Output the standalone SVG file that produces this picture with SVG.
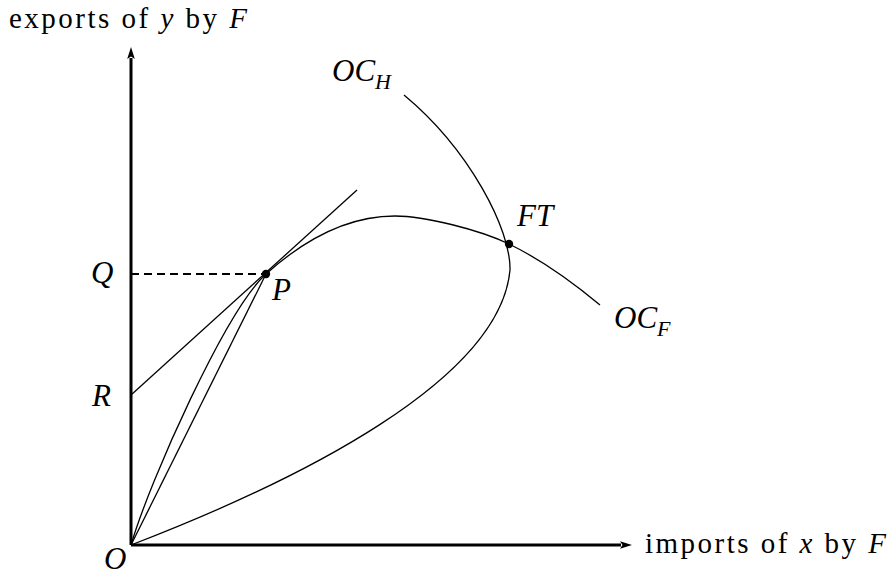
<svg xmlns="http://www.w3.org/2000/svg" width="896" height="577" viewBox="0 0 896 577">
<style>
  text { font-family: "Liberation Serif", "Times New Roman", serif; font-size: 31px; fill: #000; }
  .it { font-style: italic; }
  .sub { font-size: 22px; font-style: italic; }
  .lab { font-size: 29px; }
  .axis { stroke: #000; stroke-width: 3; fill: none; }
  .curve { stroke: #000; stroke-width: 1.3; fill: none; }
  .dash { stroke: #000; stroke-width: 1.8; stroke-dasharray: 8 5; fill: none; }
</style>
<defs>
  <marker id="arr" markerUnits="userSpaceOnUse" viewBox="-2 -5 14 10" refX="0" refY="0" markerWidth="14" markerHeight="10" orient="auto" overflow="visible">
    <path d="M-1,-3.8 L11,0 L-1,3.8 L1.5,0 z" fill="#000"/>
  </marker>
</defs>
<rect width="896" height="577" fill="#fff"/>
<g id="connectors">
  <line class="axis" x1="131" y1="545" x2="131" y2="58" marker-end="url(#arr)"/>
  <line class="axis" x1="131" y1="545" x2="621" y2="545" marker-end="url(#arr)"/>
  <line class="dash" x1="131" y1="274" x2="266" y2="274"/>
  <line class="curve" x1="131" y1="395" x2="357" y2="190"/>
  <line class="curve" x1="131" y1="545" x2="266" y2="274"/>
  <path id="OCF" class="curve" d="M131,545 C150,480 226,310 266,274 C306,238 350,216 395,216 C425,216 480,230 509,244 C540,259 570,280 600,305"/>
  <path id="OCH" class="curve" d="M131,545 C300,480 500,380 510,270 C511,230 470,150 404,95"/>
</g>
<g id="node-P">
  <circle cx="266" cy="274" r="4.2" fill="#000"/>
  <text class="it" x="272" y="300">P</text>
</g>
<g id="node-FT">
  <circle cx="509" cy="244" r="4.2" fill="#000"/>
  <text class="it" x="517" y="226">FT</text>
</g>
<g id="node-Q"><text class="it" x="91" y="283">Q</text></g>
<g id="node-R"><text class="it" x="92" y="406">R</text></g>
<g id="node-O"><text class="it" x="104" y="569">O</text></g>
<g id="node-OCH"><text class="it" x="332" y="81">OC<tspan class="sub" dy="8">H</tspan></text></g>
<g id="node-OCF"><text class="it" x="614" y="328">OC<tspan class="sub" dy="8">F</tspan></text></g>
<g id="label-y"><text class="lab" x="9" y="28" textLength="238" lengthAdjust="spacing">exports of <tspan class="it">y</tspan> by <tspan class="it">F</tspan></text></g>
<g id="label-x"><text class="lab" x="645" y="553" textLength="241" lengthAdjust="spacing">imports of <tspan class="it">x</tspan> by <tspan class="it">F</tspan></text></g>
</svg>
